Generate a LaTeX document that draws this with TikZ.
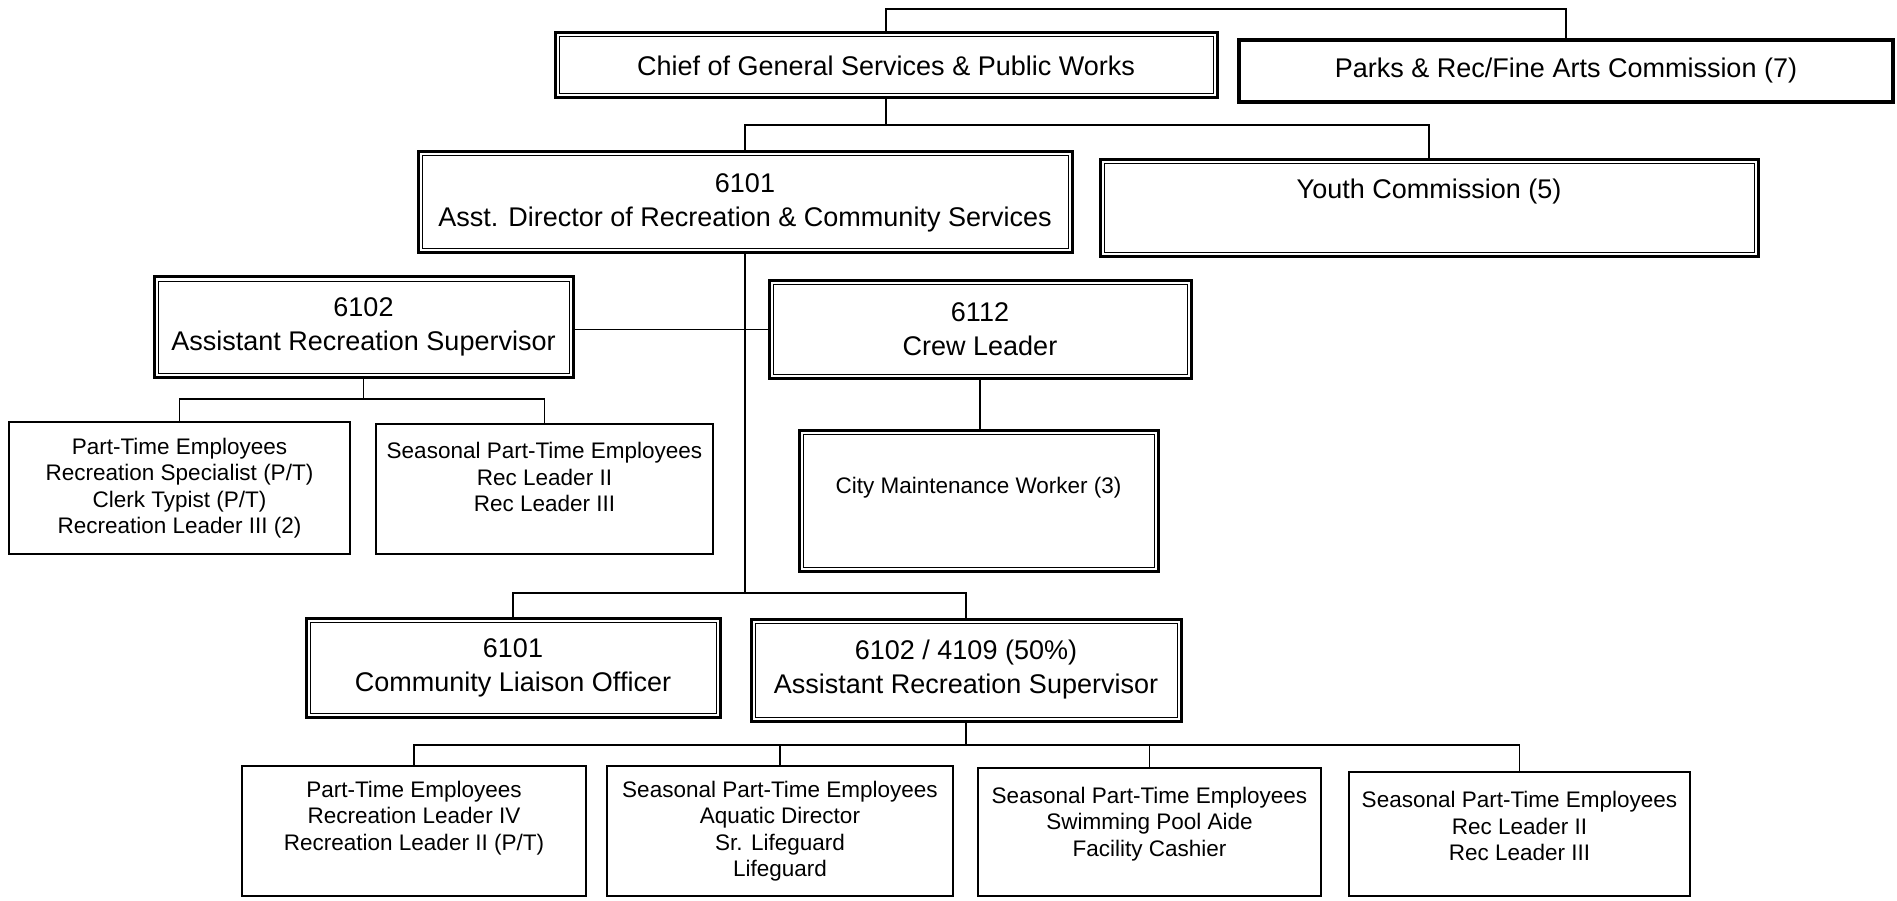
\documentclass[tikz,border=0pt]{standalone}
\usepackage{fontspec}
\setmainfont{Liberation Sans}
\newcommand\bigfnt{\fontsize{27}{34}\selectfont}
\newcommand\smlfnt{\fontsize{22.5}{26.5}\selectfont}
\tikzset{
  dbox/.style={draw,line width=3pt,inner sep=0pt,align=center,font=\bigfnt},
  pbox/.style={draw,line width=4pt,inner sep=0pt,align=center,font=\bigfnt},
  sbox/.style={draw,line width=1.3pt,inner sep=0pt,align=center,font=\smlfnt},
  txt/.style={align=center,inner sep=0pt},
  link/.style={line width=1.4pt}
}
\begin{document}
\begin{tikzpicture}[x=1pt,y=-1pt]
\useasboundingbox (0,0) rectangle (1897,901);
% levels of the horizontal bars
\coordinate (tbar) at (0,9);
\coordinate (bar1) at (0,125);
\coordinate (bar2) at (0,399);
\coordinate (bar3) at (0,593);
\coordinate (bar4) at (0,745);
% top
\node[dbox,minimum width=662pt,minimum height=65pt] (chief) at (886,65.5) {Chief of General Services \& Public Works};
\node[pbox,minimum width=654pt,minimum height=62pt] (parks) at (1566,71) {Parks \& Rec/Fine Arts Commission (7)};
\node[dbox,minimum width=654pt,minimum height=101pt] (asst) at (745,202.5) {6101\\Asst. Director of Recreation \& Community Services};
\node[dbox,minimum width=658pt,minimum height=97pt] (youth) at (1429,208.5) {};
\node[txt,font=\bigfnt] (youtht) at ([yshift=17pt]youth) {Youth Commission (5)};
% middle
\node[dbox,minimum width=419pt,minimum height=100pt] (sup1) at (363.5,327) {6102\\Assistant Recreation Supervisor};
\node[dbox,minimum width=422pt,minimum height=98pt] (crew) at (980,329.5) {6112\\Crew Leader};
\node[sbox,minimum width=341pt,minimum height=132pt] (pt1) at (179.5,488) {Part-Time Employees\\Recreation Specialist (P/T)\\Clerk Typist (P/T)\\Recreation Leader III (2)};
\node[sbox,minimum width=337pt,minimum height=130pt] (seas1) at (544.5,489) {};
\node[txt,font=\smlfnt] (seas1t) at ([yshift=12pt]seas1) {Seasonal Part-Time Employees\\Rec Leader II\\Rec Leader III};
\node[dbox,minimum width=359pt,minimum height=141pt] (city) at (978.5,501) {};
\node[txt,font=\smlfnt] (cityt) at ([yshift=13pt]city) {City Maintenance Worker (3)};
\node[dbox,minimum width=414pt,minimum height=99pt] (clo) at (513,667.5) {6101\\Community Liaison Officer};
\node[dbox,minimum width=430pt,minimum height=102pt] (sup2) at (966,670) {6102 / 4109 (50\%)\\Assistant Recreation Supervisor};
% bottom row
\node[sbox,minimum width=344pt,minimum height=130pt] (b1) at (414,831) {};
\node[txt,font=\smlfnt] (b1t) at ([yshift=13pt]b1) {Part-Time Employees\\Recreation Leader IV\\Recreation Leader II (P/T)};
\node[sbox,minimum width=346pt,minimum height=130pt] (b2) at (780,831) {Seasonal Part-Time Employees\\Aquatic Director\\Sr. Lifeguard\\Lifeguard};
\node[sbox,minimum width=343pt,minimum height=128pt] (b3) at (1149.5,832) {};
\node[txt,font=\smlfnt] (b3t) at ([yshift=8pt]b3) {Seasonal Part-Time Employees\\Swimming Pool Aide\\Facility Cashier};
\node[sbox,minimum width=341pt,minimum height=124pt] (b4) at (1519.5,834) {};
\node[txt,font=\smlfnt] (b4t) at ([yshift=8pt]b4) {Seasonal Part-Time Employees\\Rec Leader II\\Rec Leader III};
% inner lines of the double frames
\foreach \n in {chief,asst,youth,sup1,crew,city,clo,sup2}
  \draw[line width=1pt] ([shift={(5.5pt,-5.5pt)}]\n.north west) rectangle ([shift={(-5.5pt,5.5pt)}]\n.south east);
% connectors
\draw[link] (chief.north) |- (tbar -| parks.north) -- (parks.north);
\draw[link] (chief.south) -- (chief.south |- bar1);
\draw[link] (asst.north) |- (bar1 -| youth.north) -- (youth.north);
\draw[link] (asst.south) -- (asst.south |- bar3);
\draw[link] (sup1.east |- crew.west) -- (crew.west);
\draw[link] (sup1.south) -- (sup1.south |- bar2);
\draw[link] (pt1.north) |- (bar2 -| seas1.north) -- (seas1.north);
\draw[link] (crew.south) -- (crew.south |- city.north);
\draw[link] (clo.north) |- (bar3 -| sup2.north) -- (sup2.north);
\draw[link] (sup2.south) -- (sup2.south |- bar4);
\draw[link] (b1.north) |- (bar4 -| b4.north) -- (b4.north);
\foreach \n in {b2,b3}
  \draw[link] (\n.north) -- (\n.north |- bar4);
\end{tikzpicture}
\end{document}
